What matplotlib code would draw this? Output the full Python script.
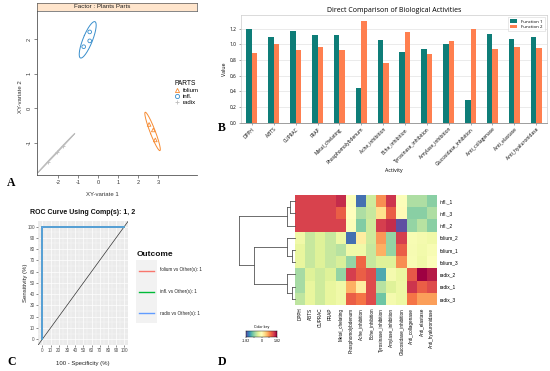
import numpy as np
import matplotlib
matplotlib.use("Agg")
import matplotlib.pyplot as plt
from matplotlib.lines import Line2D

# ---------------- DATA ----------------
# Panel A: PLS-DA individuals (XY-variate 1 / 2)
partsA = ["folium", "infl.", "radix"]
a_x = {"folium": [2.54, 2.75, 2.85], "infl.": [-0.43, -0.43, -0.73], "radix": [-2.50, -2.05, -1.75]}
a_y = {"folium": [-0.47, -0.63, -0.92], "infl.": [2.22, 1.96, 1.79], "radix": [-1.55, -1.26, -1.09]}
a_colors = {"folium": "#F68B33", "infl.": "#388ECC", "radix": "#BDBDBD"}
a_markers = {"folium": "^", "infl.": "o", "radix": "+"}
a_xticks = [-2, -1, 0, 1, 2, 3]
a_yticks = [-1, 0, 1, 2]

# Panel B: bar comparison
activities = ["DPPH", "ABTS", "CUPRAC", "FRAP", "Metal_chelating", "Phosphomolybdenum",
              "Ache_inhibition", "Bche_inhibition", "Tyrosinase_inhibition", "Amylase_inhibition",
              "Glucosidase_inhibition", "Anti_collagenase", "Anti_elastase", "Anti_hyaluronidase"]
function1 = [1.19, 1.09, 1.17, 1.12, 1.12, 0.44, 1.05, 0.90, 0.94, 1.00, 0.29, 1.13, 1.07, 1.09]
function2 = [0.89, 1.00, 0.93, 0.97, 0.93, 1.30, 0.76, 1.16, 0.88, 1.04, 1.20, 0.94, 0.97, 0.95]
b_yticks = [0.0, 0.2, 0.4, 0.6, 0.8, 1.0, 1.2]

# Panel C: ROC curves (all AUC = 1)
outcomes = ["folium vs Other(s): 1", "infl. vs Other(s): 1", "radix vs Other(s): 1"]
roc_colors = ["#F8766D", "#00BA38", "#619CFF"]
roc_fpr = [[0, 0, 100], [0, 0, 100], [0, 0, 100]]
roc_tpr = [[0, 100, 100], [0, 100, 100], [0, 100, 100]]
c_ticks = list(range(0, 101, 10))

# Panel D: heatmap (scaled values), rows in dendrogram order
d_rows = ["infl._1", "infl._3", "infl._2", "folium_2", "folium_1", "folium_3", "radix_2", "radix_1", "radix_3"]
d_cols = activities
d_vals = [
    [1.41, 1.41, 1.41, 1.41, 1.55, -0.05, -1.60, -0.50, 0.90, 1.50, -0.05, -0.70, -0.70, -0.90],
    [1.41, 1.41, 1.41, 1.41, 1.20, 0.00, -0.70, -0.55, 0.35, 1.20, 0.05, -0.90, -0.90, -0.70],
    [1.41, 1.41, 1.41, 1.41, 1.41, -0.05, -0.95, -0.50, 1.45, 1.55, -1.82, -0.85, -0.65, -0.90],
    [-0.20, -0.55, -0.40, -0.55, -0.25, -1.60, 0.20, -0.50, 0.85, -0.85, 1.45, -0.10, -0.15, -0.20],
    [-0.30, -0.55, -0.40, -0.55, -0.65, -0.20, -0.20, -0.55, 0.70, -0.85, 1.20, -0.12, -0.18, -0.10],
    [-0.30, -0.55, -0.40, -0.55, -0.45, -0.85, 1.15, -0.55, -0.40, -0.40, 0.90, -0.10, -0.20, -0.05],
    [-0.75, -0.40, -0.50, -0.40, -0.85, 1.45, 1.20, 1.35, -1.25, -0.15, -0.28, 1.25, 1.82, 1.65],
    [-0.75, -0.30, -0.50, -0.30, -0.20, 0.70, 0.20, 1.35, -0.65, -0.40, -0.25, 1.50, 1.20, 1.35],
    [-0.60, -0.30, -0.50, -0.30, -0.20, 1.20, 1.05, 1.35, -1.05, -0.15, -0.25, 1.05, 0.80, 0.80],
]
d_range = 1.82
# row dendrogram merges: (child a, child b, height); leaves 0..8, new clusters 9..
d_merges = [(0, 1, 0.09), (9, 2, 0.14), (4, 5, 0.06), (3, 11, 0.14),
            (7, 8, 0.05), (6, 13, 0.14), (12, 14, 0.74), (10, 15, 1.00)]

# ---------------- FIGURE ----------------
W, H = 550, 371
fig = plt.figure(figsize=(5.5, 3.71), dpi=100)
SANS = ["Liberation Sans", "DejaVu Sans"]
BSANS = ["Open Sans", "DejaVu Sans"]
SERIF = ["Liberation Serif", "DejaVu Serif"]


def rect(x0, y0, x1, y1):
    return [x0 / W, 1 - y1 / H, (x1 - x0) / W, (y1 - y0) / H]


def ftext(x, y, s, **kw):
    return fig.text(x / W, 1 - y / H, s, **kw)


# ---------------- Panel A ----------------
axA = fig.add_axes(rect(37, 10.7, 197, 175))
axA.set_xlim(-3.065, 4.935)
axA.set_ylim(-1.94, 2.837)
for s in ["top", "right"]:
    axA.spines[s].set_visible(False)
for s in ["left", "bottom"]:
    axA.spines[s].set_color("#555555")
    axA.spines[s].set_linewidth(0.6)
axA.set_xticks(a_xticks)
axA.set_yticks(a_yticks)
axA.set_xticklabels([str(v) for v in a_xticks], fontsize=4, family=SANS, color="#333333")
axA.set_yticklabels([str(v) for v in a_yticks], fontsize=4, family=SANS, color="#333333",
                    rotation=90, va="center")
axA.tick_params(length=2.2, width=0.5, color="#555555", pad=1.5)
t = np.linspace(0, 2 * np.pi, 200)
chi = np.sqrt(-2 * np.log(0.05))
for p in partsA:
    xs, ys = np.array(a_x[p]), np.array(a_y[p])
    cov = np.cov(xs, ys)
    vals, vecs = np.linalg.eigh(cov)
    vals = np.clip(vals, 1e-6, None)
    circ = np.vstack([np.cos(t), np.sin(t)])
    ell = vecs @ (np.sqrt(vals)[:, None] * circ) * chi
    axA.plot(xs.mean() + ell[0], ys.mean() + ell[1], color=a_colors[p], lw=0.7)
    if a_markers[p] == "+":
        axA.scatter(xs, ys, marker="+", s=10, color=a_colors[p], linewidths=0.6)
    else:
        axA.scatter(xs, ys, marker=a_markers[p], s=7, facecolors="none",
                    edgecolors=a_colors[p], linewidths=0.6)
ftext(21, 97, "XY-variate 2", rotation=90, ha="center", va="center", fontsize=4.3, family=SANS, color="#333333")
ftext(102, 195, "XY-variate 1", ha="center", va="center", fontsize=4.3, family=SANS, color="#333333")
axS = fig.add_axes(rect(37, 3, 197, 10.7))
axS.set_facecolor("#FFE5CC")
axS.set_xticks([]); axS.set_yticks([])
for s in axS.spines.values():
    s.set_color("#555555"); s.set_linewidth(0.5)
axS.text((102 - 37) / 160, 0.5, "Factor : Plants Parts", ha="center", va="center",
         fontsize=4.5, family=SANS, color="#222222", transform=axS.transAxes)
handlesA = []
for p in partsA:
    if a_markers[p] == "+":
        h = Line2D([], [], marker="+", ls="none", color=a_colors[p], ms=3.5, mew=0.6)
    else:
        h = Line2D([], [], marker=a_markers[p], ls="none", mfc="none", mec=a_colors[p], ms=3, mew=0.6)
    handlesA.append(h)
legA = fig.legend(handlesA, partsA, title="PARTS", loc="upper left",
                  bbox_to_anchor=(171 / W, 1 - 76 / H), frameon=False,
                  prop={"family": SANS, "size": 4.3}, title_fontproperties={"family": SANS, "size": 4.8},
                  handlelength=0.8, handletextpad=0.6, labelspacing=0.15, borderpad=0.1,
                  alignment="left")

# ---------------- Panel B ----------------
axB = fig.add_axes(rect(241, 15, 547, 122.7))
xb = np.arange(len(activities))
axB.bar(xb - 0.125, function1, width=0.25, color="#0E7D78", label="Function 1", zorder=3)
axB.bar(xb + 0.125, function2, width=0.25, color="#FF7F4F", label="Function 2", zorder=3)
axB.set_xlim(-0.5, len(activities) - 0.5)
axB.set_ylim(0, 1.372)
axB.set_yticks(b_yticks)
axB.set_yticklabels(["%.1f" % v for v in b_yticks], fontsize=3.5, family=BSANS)
axB.set_xticks(xb)
axB.set_xticklabels(activities, rotation=45, ha="right", rotation_mode="anchor",
                    fontsize=3.5, family=BSANS)
axB.tick_params(length=1.5, width=0.4, pad=1.5, color="#666666")
axB.grid(axis="y", color="#E3E3E3", lw=0.5, zorder=0)
for s in axB.spines.values():
    s.set_color("#CCCCCC"); s.set_linewidth(0.5)
axB.spines["bottom"].set_color("#777777")
axB.set_title("Direct Comparison of Biological Activities", fontsize=5, family=BSANS, pad=2.5)
axB.set_xlabel("Activity", fontsize=3.8, family=BSANS, labelpad=1)
axB.set_ylabel("Value", fontsize=3.8, family=BSANS, labelpad=2)
axB.legend(loc="upper right", prop={"family": BSANS, "size": 3.2}, frameon=True,
           handlelength=1.6, handleheight=0.7, borderpad=0.5, labelspacing=0.3,
           edgecolor="#CCCCCC", fancybox=False).get_frame().set_linewidth(0.4)

# ---------------- Panel C ----------------
axC = fig.add_axes(rect(38.2, 220.9, 128.4, 344.9))
axC.set_facecolor("#EBEBEB")
axC.set_xlim(-5, 105); axC.set_ylim(-5, 105)
axC.set_xticks(c_ticks); axC.set_yticks(c_ticks)
axC.set_xticks(np.arange(5, 100, 10), minor=True)
axC.set_yticks(np.arange(5, 100, 10), minor=True)
axC.grid(which="major", color="white", lw=0.5)
axC.grid(which="minor", color="white", lw=0.25)
axC.set_axisbelow(True)
for s in axC.spines.values():
    s.set_visible(False)
axC.set_xticklabels([str(v) for v in c_ticks], fontsize=3.3, family=SANS, color="#4D4D4D")
axC.set_yticklabels([str(v) for v in c_ticks], fontsize=3.3, family=SANS, color="#4D4D4D")
axC.tick_params(which="major", length=1.5, width=0.4, color="#333333", pad=1)
axC.tick_params(which="minor", length=0)
axC.plot([-5, 105], [-5, 105], color="#333333", lw=0.5)
for fx, ty, col in zip(roc_fpr, roc_tpr, roc_colors):
    axC.plot(fx, ty, color=col, lw=1.1, solid_joinstyle="miter")
ftext(83, 213, "ROC Curve Using Comp(s): 1, 2", ha="center", va="center", fontsize=5,
      weight="bold", family=SANS, color="#111111")
ftext(83, 363, "100 - Specificity (%)", ha="center", va="center", fontsize=4.3, family=SANS, color="#222222")
ftext(25, 283, "Sensitivity (%)", rotation=90, ha="center", va="center", fontsize=4.3, family=SANS, color="#222222")
ftext(137, 254, "Outcome", ha="left", va="center", fontsize=6, weight="bold", family=SANS, color="#111111")
axL = fig.add_axes(rect(136, 260, 157, 323))
axL.set_facecolor("#F2F2F2")
axL.set_xlim(0, 1); axL.set_ylim(3, 0)
axL.set_xticks([]); axL.set_yticks([])
for s in axL.spines.values():
    s.set_visible(False)
for i, (lab, col) in enumerate(zip(outcomes, roc_colors)):
    axL.plot([0.12, 0.88], [i + 0.5, i + 0.5], color=col, lw=1.0)
    ftext(160, 270 + i * 21.5, lab, ha="left", va="center", fontsize=3.3, family=SANS, color="#222222")

# ---------------- Panel D ----------------
axD = fig.add_axes(rect(295, 195, 437, 305))
axD.imshow(np.array(d_vals), cmap="Spectral_r", vmin=-d_range, vmax=d_range,
           aspect="auto", interpolation="nearest")
axD.set_xticks(np.arange(len(d_cols)))
axD.set_xticklabels(d_cols, rotation=90, fontsize=3.3, family=SANS, va="top")
axD.set_yticks(np.arange(len(d_rows)))
axD.set_yticklabels(d_rows, fontsize=3.5, family=SANS)
axD.yaxis.tick_right()
axD.tick_params(length=0, pad=2)
for s in axD.spines.values():
    s.set_visible(False)

axT = fig.add_axes(rect(239.3, 195, 295, 305))
axT.set_ylim(len(d_rows) - 0.5, -0.5)
axT.set_xlim(1.0, 0.0)
axT.axis("off")
pos = {i: float(i) for i in range(len(d_rows))}
hgt = {i: 0.0 for i in range(len(d_rows))}
nid = len(d_rows)
for a, b, h in d_merges:
    for c in (a, b):
        axT.plot([hgt[c], h], [pos[c], pos[c]], color="#555555", lw=0.6, clip_on=False)
    axT.plot([h, h], [pos[a], pos[b]], color="#555555", lw=0.6, clip_on=False)
    pos[nid] = (pos[a] + pos[b]) / 2
    hgt[nid] = h
    nid += 1

axK = fig.add_axes(rect(246, 331, 277, 337))
axK.imshow(np.linspace(-d_range, d_range, 256)[None, :], cmap="Spectral_r", aspect="auto",
           extent=[-d_range, d_range, 0, 1], vmin=-d_range, vmax=d_range)
axK.set_yticks([])
axK.set_xticks([-d_range, -d_range / 2, 0, d_range / 2, d_range])
axK.set_xticklabels(["-1.82", "", "0", "", "1.82"], fontsize=2.6, family=SANS)
axK.tick_params(length=1, width=0.3, pad=0.8)
for s in axK.spines.values():
    s.set_linewidth(0.3)
ftext(261.5, 327, "Color key", ha="center", va="center", fontsize=2.6, family=SANS)

# ---------------- panel letters ----------------
for lx, ly, L in [(7, 183, "A"), (218, 128, "B"), (7, 362, "C"), (218, 362, "D")]:
    ftext(lx, ly, L, ha="left", va="center", fontsize=8.5, weight="bold", family=SERIF)

fig.savefig("out.png", dpi=100)
